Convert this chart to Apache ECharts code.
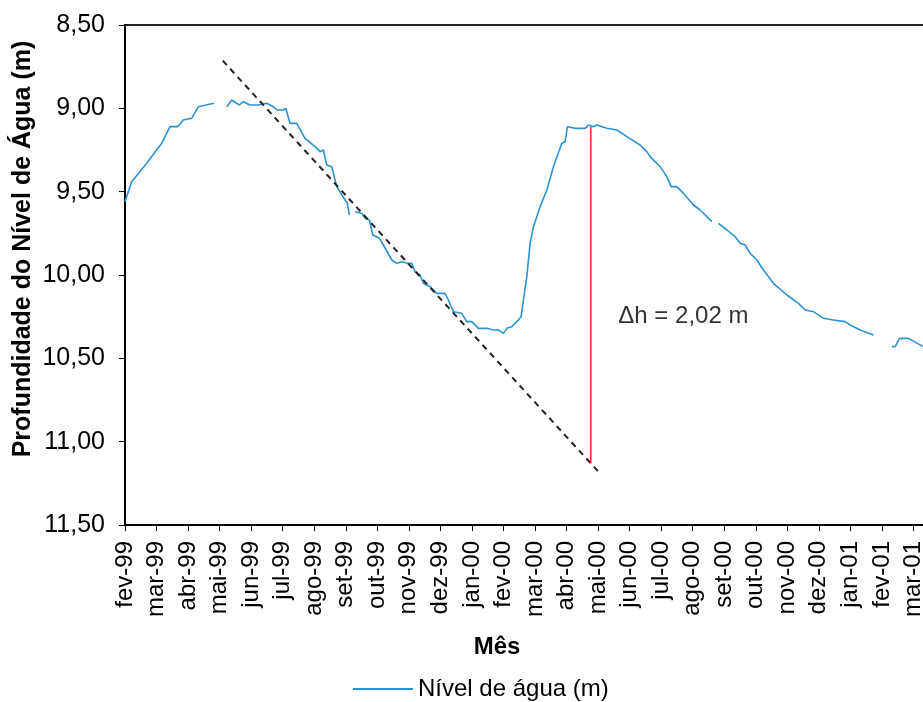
<!DOCTYPE html>
<html>
<head>
<meta charset="utf-8">
<script src="https://cdn.jsdelivr.net/npm/echarts@6/dist/echarts.min.js"></script>
<style>
html,body{margin:0;padding:0;background:#fff;overflow:hidden;width:923px;height:702px;}
#c{width:960px;height:702px;}
</style>
</head>
<body>
<div id="c"></div>
<script>
// Month tick labels (position 0 = fev-99)
var monthLabels = ['fev-99','mar-99','abr-99','mai-99','jun-99','jul-99','ago-99','set-99','out-99','nov-99','dez-99','jan-00','fev-00','mar-00','abr-00','mai-00','jun-00','jul-00','ago-00','set-00','out-00','nov-00','dez-00','jan-01','fev-01','mar-01','abr-01'];

// Time of each reading, in months since 1 Feb 1999 (null = gap in record)
var monthPos = [
  0.000,0.212,0.688,1.164,1.427,1.671,1.849,2.115,2.325,2.823,null,
  3.226,3.384,3.625,3.752,3.964,4.228,4.494,4.703,4.811,5.021,5.097,5.233,5.446,5.709,6.026,6.185,6.289,6.397,6.556,6.714,6.977,7.050,7.114,null,
  7.295,7.507,7.612,7.748,7.856,8.065,8.192,8.459,8.617,8.776,8.953,9.093,9.198,9.356,9.461,9.673,9.886,10.149,10.254,10.412,10.679,10.837,10.996,11.205,11.472,11.681,11.840,11.998,12.106,12.265,12.423,12.560,12.633,12.740,12.845,12.950,13.162,13.375,13.584,13.850,13.955,14.028,14.272,14.589,14.694,14.853,14.960,15.277,15.594,15.911,16.333,16.546,16.650,16.968,17.180,17.317,17.497,17.707,18.024,18.236,18.608,null,
  18.817,19.084,19.347,19.505,19.664,19.822,20.035,20.244,20.561,20.986,21.354,21.567,21.830,22.147,22.464,22.835,22.994,23.311,23.733,null,
  24.317,24.421,24.558,24.843,25.309
];
// Water level depth (m)
var depth = [
  9.56,9.44,9.33,9.21,9.11,9.11,9.07,9.06,8.99,8.97,null,
  8.99,8.95,8.98,8.96,8.98,8.98,8.97,8.99,9.01,9.01,9.00,9.09,9.09,9.18,9.23,9.26,9.25,9.34,9.35,9.47,9.55,9.57,9.64,null,
  9.62,9.63,9.66,9.67,9.76,9.78,9.82,9.91,9.93,9.92,9.93,9.93,9.98,10.00,10.05,10.07,10.11,10.11,10.15,10.22,10.23,10.28,10.28,10.32,10.32,10.33,10.33,10.35,10.32,10.31,10.28,10.25,10.15,10.01,9.81,9.71,9.59,9.49,9.35,9.21,9.20,9.11,9.12,9.12,9.10,9.11,9.10,9.12,9.13,9.17,9.22,9.26,9.29,9.35,9.41,9.47,9.47,9.51,9.58,9.61,9.68,null,
  9.69,9.73,9.77,9.81,9.82,9.87,9.91,9.97,10.05,10.12,10.17,10.21,10.22,10.26,10.27,10.28,10.30,10.33,10.36,null,
  10.43,10.43,10.38,10.38,10.43
];

// Recession trend line (dashed)
var trendPos = [3.10, 15.01];
var trendDepth = [8.714, 11.18];

// Delta h marker (red)
var deltaPos = [14.77, 14.77];
var deltaDepth = [9.11, 11.13];
var deltaLabelPos = 15.64, deltaLabelDepth = 10.25;
var deltaText = '\u0394h = 2,02 m';

var yTicks = {min: 8.5, max: 11.5, step: 0.5};

function pairs(xs, ys){
  var out = [];
  for (var i = 0; i < xs.length; i++) {
    out.push(xs[i] === null ? '-' : [xs[i], ys[i]]);
  }
  return out;
}
var levelData = pairs(monthPos, depth);

var FONT = 'Liberation Sans, Arial, sans-serif';
var chart = echarts.init(document.getElementById('c'), null, {renderer: 'canvas'});
chart.setOption({
  animation: false,
  backgroundColor: '#fff',
  grid: {left: 125, top: 25, right: 15, bottom: 177, show: true, borderColor: '#222', borderWidth: 2, backgroundColor: 'transparent'},
  xAxis: {
    type: 'value', min: 0, max: 26, interval: 1,
    axisLine: {show: true, onZero: false, lineStyle: {color: '#000', width: 2}},
    axisTick: {show: true, length: 6, lineStyle: {color: '#000', width: 1}},
    splitLine: {show: false},
    axisLabel: {
      rotate: 90, margin: 16, fontSize: 24, fontFamily: FONT, color: '#000',
      formatter: function (v) { return monthLabels[Math.round(v)] || ''; }
    }
  },
  yAxis: {
    type: 'value', inverse: true, min: yTicks.min, max: yTicks.max, interval: yTicks.step,
    axisLine: {show: true, onZero: false, lineStyle: {color: '#000', width: 2}},
    axisTick: {show: true, length: 6, lineStyle: {color: '#000', width: 1}},
    splitLine: {show: false},
    axisLabel: {
      margin: 20, fontSize: 25, fontFamily: FONT, color: '#000',
      formatter: function (v) { return v.toFixed(2).replace('.', ','); }
    }
  },
  legend: {
    data: ['N\u00edvel de \u00e1gua (m)'],
    left: 353, top: 677, padding: 0,
    icon: 'rect', itemWidth: 60, itemHeight: 2,
    textStyle: {fontSize: 24, fontFamily: FONT, color: '#000'}
  },
  graphic: [
    {type: 'text', x: 497, y: 647, style: {text: 'M\u00eas', font: 'bold 24px ' + FONT, fill: '#000', textAlign: 'center', textVerticalAlign: 'middle'}},
    {type: 'text', x: 23, y: 249, rotation: Math.PI / 2, style: {text: 'Profundidade do N\u00edvel de \u00c1gua (m)', font: 'bold 25px ' + FONT, fill: '#000', textAlign: 'center', textVerticalAlign: 'middle'}}
  ],
  series: [
    {
      name: 'N\u00edvel de \u00e1gua (m)', type: 'line', data: levelData,
      showSymbol: false, symbol: 'none', connectNulls: false,
      lineStyle: {color: '#2a94d6', width: 1.6}, itemStyle: {color: '#2a94d6'}
    },
    {
      name: 'trend', type: 'line', data: pairs(trendPos, trendDepth), showSymbol: false, symbol: 'none',
      lineStyle: {color: '#222', width: 2, type: [6, 5]}, silent: true
    },
    {
      name: 'delta', type: 'line', data: pairs(deltaPos, deltaDepth), showSymbol: false, symbol: 'none',
      lineStyle: {color: '#ff2020', width: 1.5}, silent: true
    },
    {
      name: 'deltaLabel', type: 'scatter', data: [[deltaLabelPos, deltaLabelDepth]], symbolSize: 0.1,
      label: {show: true, position: 'right', distance: 0, formatter: deltaText, fontSize: 24, fontFamily: FONT, color: '#000'},
      silent: true
    }
  ]
});
</script>
</body>
</html>
